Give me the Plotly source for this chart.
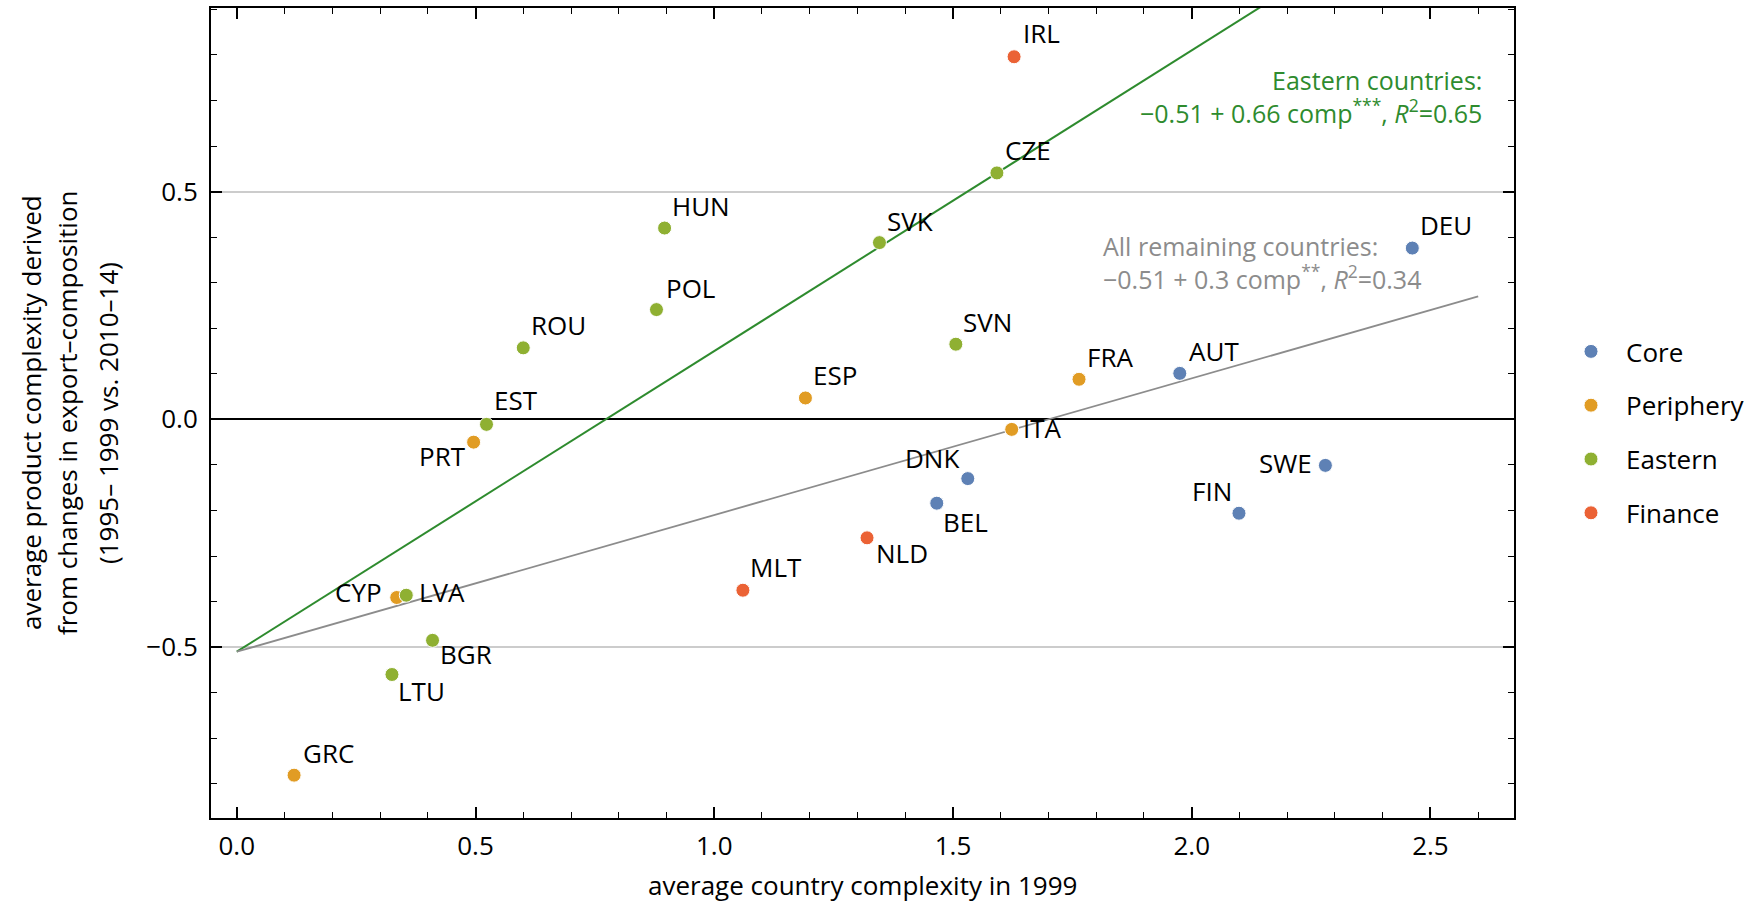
import plotly.graph_objects as go

# ---------------- data ----------------
countries = ["IRL", "CZE", "HUN", "SVK", "DEU", "POL", "ROU", "SVN", "FRA", "AUT",
             "ESP", "EST", "PRT", "ITA", "DNK", "SWE", "BEL", "FIN", "NLD", "MLT",
             "CYP", "LVA", "BGR", "LTU", "GRC"]
groups = ["Finance", "Eastern", "Eastern", "Eastern", "Core", "Eastern", "Eastern", "Eastern", "Periphery", "Core",
          "Periphery", "Eastern", "Periphery", "Periphery", "Core", "Core", "Core", "Core", "Finance", "Finance",
          "Periphery", "Eastern", "Eastern", "Eastern", "Periphery"]
country_complexity_1999 = [1.628, 1.592, 0.896, 1.346, 2.462, 0.879, 0.600, 1.506, 1.764, 1.975,
                           1.191, 0.523, 0.496, 1.623, 1.531, 2.280, 1.466, 2.099, 1.320, 1.060,
                           0.335, 0.355, 0.410, 0.325, 0.120]
product_complexity_change = [0.796, 0.541, 0.420, 0.388, 0.376, 0.241, 0.157, 0.165, 0.088, 0.101,
                             0.047, -0.011, -0.050, -0.022, -0.130, -0.101, -0.184, -0.206, -0.260, -0.375,
                             -0.391, -0.386, -0.485, -0.560, -0.781]

group_order = ["Core", "Periphery", "Eastern", "Finance"]

eastern_fit = [-0.51, 0.66]   # intercept, slope
rest_fit = [-0.51, 0.30]
fit_x = [0.0, 2.6]

x_ticks = [0.0, 0.5, 1.0, 1.5, 2.0, 2.5]
y_ticks = [-0.5, 0.0, 0.5]

# ---------------- style ----------------
COLORS = {"Core": "#5E81B5", "Periphery": "#E19C24", "Eastern": "#8FB032", "Finance": "#EB6235"}
FONT = "Open Sans"
FS = 26

# label offsets (pixels, text centre relative to the point; +y = up)
LABEL_OFFSET = {
    "IRL": (27, 24), "CZE": (31, 23), "HUN": (36, 22), "SVK": (31, 22), "DEU": (34, 23),
    "POL": (34, 22), "ROU": (35, 23), "SVN": (32, 22), "FRA": (31, 22), "AUT": (34, 22),
    "ESP": (30, 23), "EST": (29, 24), "PRT": (-31, -14), "ITA": (31, 1), "DNK": (-36, 21),
    "SWE": (-40, 2), "BEL": (29, -19), "FIN": (-27, 22), "NLD": (35, -15), "MLT": (33, 23),
    "CYP": (-38, 6), "LVA": (36, 3), "BGR": (33, -14), "LTU": (30, -16), "GRC": (34, 22),
}

W, H = 1756, 904
L, R, T, B = 211, 1514, 8, 818


def px(xp):
    return (xp - L) / (R - L)


def py(yp):
    return (B - yp) / (B - T)


fig = go.Figure()

# regression lines
fig.add_trace(go.Scatter(x=fit_x, y=[eastern_fit[0] + eastern_fit[1] * v for v in fit_x],
                         mode="lines", line=dict(color="#2E8B2E", width=2), showlegend=False,
                         hoverinfo="skip"))
fig.add_trace(go.Scatter(x=fit_x, y=[rest_fit[0] + rest_fit[1] * v for v in fit_x],
                         mode="lines", line=dict(color="#8c8c8c", width=1.8), showlegend=False,
                         hoverinfo="skip"))

# points per group
for g in group_order:
    xs = [x for x, gg in zip(country_complexity_1999, groups) if gg == g]
    ys = [y for y, gg in zip(product_complexity_change, groups) if gg == g]
    names = [c for c, gg in zip(countries, groups) if gg == g]
    fig.add_trace(go.Scatter(x=xs, y=ys, mode="markers", name=g, text=names,
                             legendgroup=g,
                             marker=dict(color=COLORS[g], size=14,
                                         line=dict(color="white", width=1))))

annotations = []
for c, x, y in zip(countries, country_complexity_1999, product_complexity_change):
    dx, dy = LABEL_OFFSET[c]
    annotations.append(dict(x=x, y=y, xref="x", yref="y", text=c, showarrow=False,
                            xshift=dx, yshift=dy, xanchor="center", yanchor="middle",
                            font=dict(family=FONT, size=FS, color="black")))

# fit annotations
annotations.append(dict(
    x=px(1484), y=py(97), xref="paper", yref="paper", xanchor="right", yanchor="middle",
    align="right", showarrow=False,
    text="Eastern countries:<br>\u22120.51 + 0.66 comp<sup>***</sup>, <i>R</i><sup>2</sup>=0.65",
    font=dict(family=FONT, size=25, color="#2E8B2E")))
annotations.append(dict(
    x=px(1101), y=py(262), xref="paper", yref="paper", xanchor="left", yanchor="middle",
    align="left", showarrow=False,
    text="All remaining countries:<br>\u22120.51 + 0.3 comp<sup>**</sup>, <i>R</i><sup>2</sup>=0.34",
    font=dict(family=FONT, size=25, color="#8c8c8c")))

# axis titles
annotations.append(dict(x=0.5, y=py(885), xref="paper", yref="paper", xanchor="center",
                        yanchor="middle", showarrow=False, text="average country complexity in 1999",
                        font=dict(family=FONT, size=FS, color="black")))
ytitle_lines = ["average product complexity derived",
                "from changes in export\u2013composition",
                "(1995\u2013 1999 vs. 2010\u201314)"]
for line, xc in zip(ytitle_lines, [31, 67, 108]):
    annotations.append(dict(x=px(xc), y=py(413), xref="paper", yref="paper", xanchor="center",
                            yanchor="middle", showarrow=False, text=line, textangle=-90,
                            font=dict(family=FONT, size=FS, color="black")))

axis_common = dict(
    ticks="inside", ticklen=11, tickwidth=1.5, tickcolor="black",
    showline=True, linecolor="black", linewidth=2, mirror="allticks",
    tickformat=".1f", tickfont=dict(family=FONT, size=FS, color="black"),
    minor=dict(ticks="inside", ticklen=6, tickwidth=1.2, tickcolor="black", dtick=0.1),
)

fig.update_layout(
    width=W, height=H,
    margin=dict(l=L, r=W - R, t=T, b=H - B, autoexpand=False),
    paper_bgcolor="white", plot_bgcolor="white",
    font=dict(family=FONT, size=FS, color="black"),
    xaxis=dict(range=[-0.054, 2.675], tickvals=x_ticks, showgrid=False, zeroline=False,
               ticklabelstandoff=4, **axis_common),
    yaxis=dict(range=[-0.875, 0.903], tickvals=y_ticks, showgrid=True, gridcolor="#cccccc",
               gridwidth=1.5, zeroline=True, zerolinecolor="black", zerolinewidth=2,
               ticklabelstandoff=6, **axis_common),
    legend=dict(x=px(1556), y=py(328), xanchor="left", yanchor="top",
                font=dict(family=FONT, size=FS, color="black"), tracegroupgap=17,
                itemwidth=60, bgcolor="rgba(0,0,0,0)"),
    annotations=annotations,
    showlegend=True,
)

fig.write_html("out.html")
